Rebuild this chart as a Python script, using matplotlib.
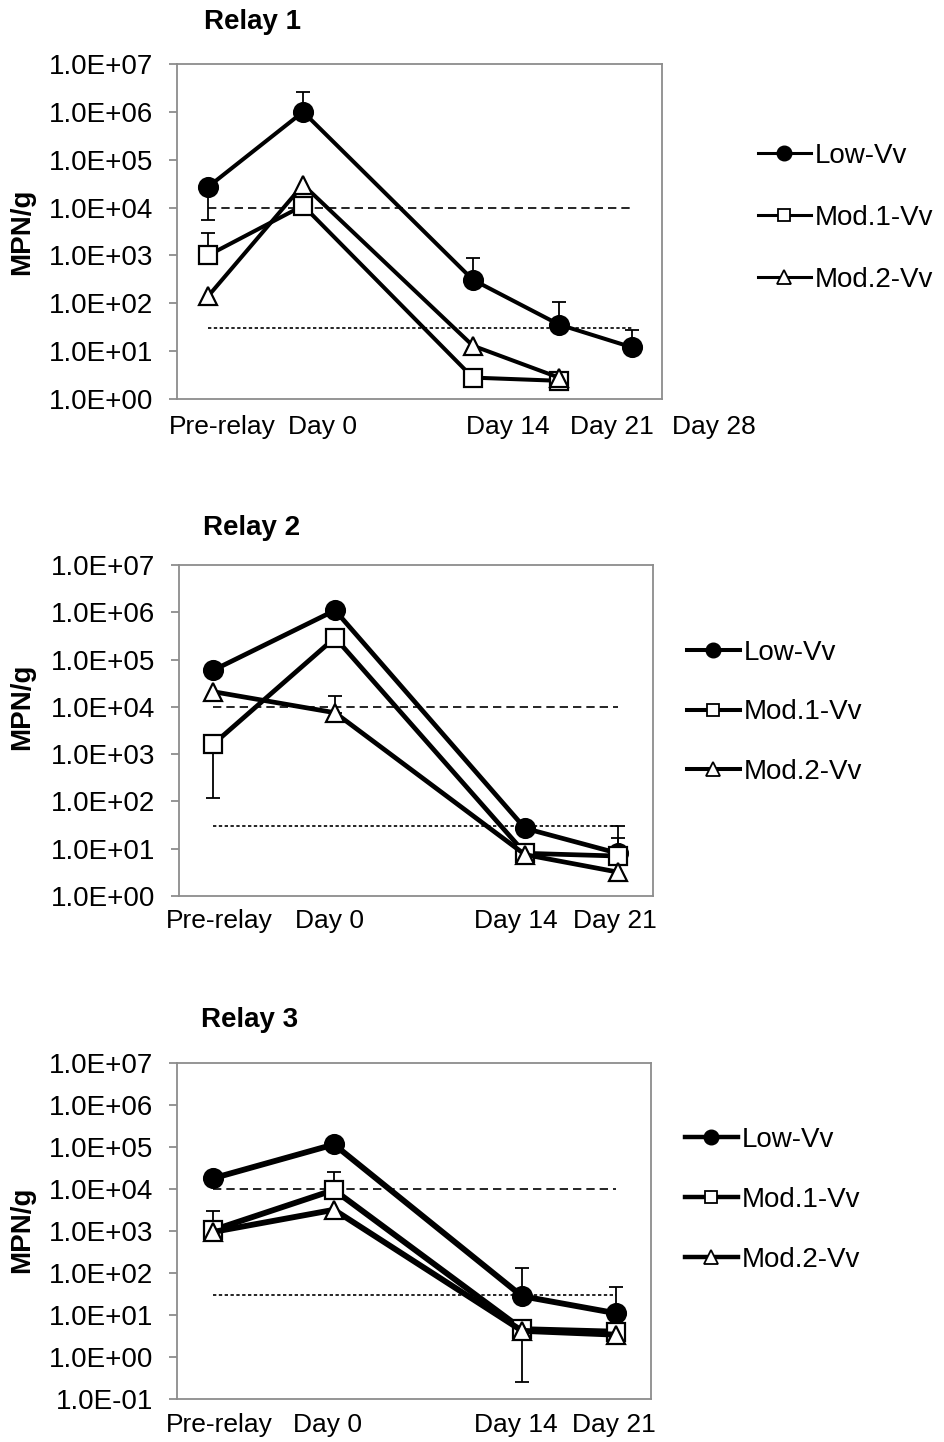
import numpy as np
import matplotlib
matplotlib.use('Agg')
import matplotlib.pyplot as plt
from matplotlib.lines import Line2D
from matplotlib.ticker import FixedLocator, FuncFormatter, NullLocator

plt.rcParams['font.family'] = ['Liberation Sans', 'DejaVu Sans']

nan = np.nan
series_names = ['Low-Vv', 'Mod.1-Vv', 'Mod.2-Vv']
titles = ['Relay 1', 'Relay 2', 'Relay 3']
y_label = 'MPN/g'
ref_upper = 1.0e4      # dashed reference line
ref_lower = 30         # dotted reference line

# ---------------- Relay 1 ----------------
r1_labels = ['Pre-relay', 'Day 0', 'Day 14', 'Day 21', 'Day 28']
r1_low = [2.7e4, 1.0e6, 310, 36, 12]
r1_mod1 = [1.0e3, 1.1e4, 2.8, 2.4, nan]
r1_mod2 = [140, 3.0e4, 13, 2.8, nan]
r1_low_hi = [nan, 2.6e6, 880, 105, 28]
r1_low_lo = [5.5e3, nan, nan, nan, nan]
r1_mod1_hi = [3.0e3, nan, nan, nan, nan]
r1_mod1_lo = [nan, nan, nan, nan, nan]
r1_mod2_hi = [nan, nan, nan, nan, nan]
r1_mod2_lo = [nan, nan, nan, nan, nan]

# ---------------- Relay 2 ----------------
r2_labels = ['Pre-relay', 'Day 0', 'Day 14', 'Day 21']
r2_low = [5.9e4, 1.1e6, 27, 8]
r2_mod1 = [1.6e3, 2.9e5, 8, 7]
r2_mod2 = [2.1e4, 7.5e3, 7.5, 3.2]
r2_low_hi = [nan, nan, nan, 17]
r2_low_lo = [nan, nan, nan, nan]
r2_mod1_hi = [nan, nan, nan, 30]
r2_mod1_lo = [1.2e2, nan, nan, nan]
r2_mod2_hi = [nan, 1.7e4, nan, nan]
r2_mod2_lo = [nan, nan, nan, nan]

# ---------------- Relay 3 ----------------
r3_labels = ['Pre-relay', 'Day 0', 'Day 14', 'Day 21']
r3_low = [1.8e4, 1.15e5, 28, 11]
r3_mod1 = [1.05e3, 9.5e3, 4.6, 4.0]
r3_mod2 = [950, 3.2e3, 4.2, 3.4]
r3_low_hi = [nan, nan, 130, 47]
r3_low_lo = [nan, nan, nan, nan]
r3_mod1_hi = [3.0e3, 2.5e4, nan, nan]
r3_mod1_lo = [nan, nan, nan, nan]
r3_mod2_hi = [nan, nan, nan, nan]
r3_mod2_lo = [nan, nan, 0.26, nan]

# ---------------- layout (pixels) ----------------
W, H = 944, 1442
fig = plt.figure(figsize=(W / 100, H / 100), dpi=100)


def px_rect(l, t, r, b):
    return [l / W, 1 - b / H, (r - l) / W, (b - t) / H]


panels = [
    dict(rect=(177, 64, 662, 399), xpos=[-7.84, 0, 14.0, 21.1, 27.13], xlim=(-10.4, 29.6),
         ylim=(1, 1e7), label_x=[-6.68, 1.57, 16.9, 25.5, 33.9], lw=2.9, leg_lw=2.2,
         labels=r1_labels, data=[r1_low, r1_mod1, r1_mod2],
         hi=[r1_low_hi, r1_mod1_hi, r1_mod2_hi], lo=[r1_low_lo, r1_mod1_lo, r1_mod2_lo],
         title_xy=(252, 22), ylab_y=232, leg_xy=(758, 143), leg_sp=1.3, xlab_off=-20),
    dict(rect=(179, 565, 653, 896), xpos=[-9.0, 0, 14.0, 20.85], xlim=(-11.5, 23.43),
         ylim=(1, 1e7), label_x=[-8.55, -0.44, 13.3, 20.6], lw=3.4, leg_lw=2.9,
         labels=r2_labels, data=[r2_low, r2_mod1, r2_mod2],
         hi=[r2_low_hi, r2_mod1_hi, r2_mod2_hi], lo=[r2_low_lo, r2_mod1_lo, r2_mod2_lo],
         title_xy=(252, 528), ylab_y=707, leg_xy=(687, 640), leg_sp=1.2, xlab_off=-18),
    dict(rect=(177, 1063, 651, 1399), xpos=[-9.0, 0, 14.0, 21.0], xlim=(-11.69, 23.6),
         ylim=(0.1, 1e7), label_x=[-8.56, -0.45, 13.5, 20.85], lw=4.2, leg_lw=3.2,
         labels=r3_labels, data=[r3_low, r3_mod1, r3_mod2],
         hi=[r3_low_hi, r3_mod1_hi, r3_mod2_hi], lo=[r3_low_lo, r3_mod1_lo, r3_mod2_lo],
         title_xy=(250, 1020), ylab_y=1230, leg_xy=(685, 1127), leg_sp=1.22, xlab_off=-19),
]

styles = [
    dict(marker='o', mfc='black', mec='black', ms=14, mew=1.2),
    dict(marker='s', mfc='white', mec='black', ms=13, mew=1.6),
    dict(marker='^', mfc='white', mec='black', ms=13, mew=1.6),
]
leg_styles = [
    dict(marker='o', mfc='black', mec='black', ms=10.5, mew=1.0),
    dict(marker='s', mfc='white', mec='black', ms=9, mew=1.3),
    dict(marker='^', mfc='white', mec='black', ms=9.5, mew=1.3),
]

spine_col = '#8c8c8c'


def fmt(v, pos):
    e = int(round(np.log10(v)))
    return f"1.0E{e:+03d}"


for P, title in zip(panels, titles):
    ax = fig.add_axes(px_rect(*P['rect']))
    ax.set_yscale('log')
    ax.set_xlim(*P['xlim'])
    ax.set_ylim(*P['ylim'])
    lo_e, hi_e = int(np.log10(P['ylim'][0])), int(np.log10(P['ylim'][1]))
    ax.yaxis.set_major_locator(FixedLocator([10.0 ** e for e in range(lo_e, hi_e + 1)]))
    ax.yaxis.set_major_formatter(FuncFormatter(fmt))
    ax.yaxis.set_minor_locator(NullLocator())
    ax.set_xticks([])
    for s in ax.spines.values():
        s.set_color(spine_col)
        s.set_linewidth(1.3)
    ax.tick_params(axis='y', which='major', direction='out', length=6, width=1.3,
                   color=spine_col, pad=11, labelsize=20, labelcolor='black')

    xpos = np.array(P['xpos'])
    # reference lines
    ax.plot([xpos[0], xpos[-1]], [ref_upper, ref_upper], color='black', lw=1.2,
            linestyle=(0, (5, 3)), zorder=1)
    ax.plot([xpos[0], xpos[-1]], [ref_lower, ref_lower], color='black', lw=1.2,
            linestyle=(0, (2, 1.5)), zorder=1)

    for vals, his, los, st in zip(P['data'], P['hi'], P['lo'], styles):
        v = np.array(vals, dtype=float)
        hi = np.array(his, dtype=float)
        lo = np.array(los, dtype=float)
        up = np.where(np.isnan(hi), 0, hi - v)
        dn = np.where(np.isnan(lo), 0, v - lo)
        m = ~np.isnan(hi) | ~np.isnan(lo)
        if m.any():
            ax.errorbar(xpos[m], v[m], yerr=[dn[m], up[m]], fmt='none', ecolor='black',
                        elinewidth=1.3, capsize=5, capthick=1.3, zorder=2)
        ok = ~np.isnan(v)
        ax.plot(xpos[ok], v[ok], color='black', lw=P['lw'], zorder=3,
                solid_capstyle='butt', **st)

    # category labels
    for lx, lab in zip(P['label_x'], P['labels']):
        ax.annotate(lab, xy=(lx, 0), xycoords=('data', 'axes fraction'),
                    xytext=(0, P['xlab_off']), textcoords='offset points',
                    ha='center', va='center', fontsize=19, annotation_clip=False)

    handles = [Line2D([], [], color='black', lw=P['leg_lw'], **ls) for ls in leg_styles]
    ax.legend(handles, series_names, loc='upper left',
              bbox_to_anchor=(P['leg_xy'][0] / W, 1 - P['leg_xy'][1] / H),
              bbox_transform=fig.transFigure, frameon=False, fontsize=20,
              handlelength=1.9, handletextpad=0.15, labelspacing=P['leg_sp'],
              borderpad=0, borderaxespad=0)

    fig.text(P['title_xy'][0] / W, 1 - P['title_xy'][1] / H, title, ha='center',
             va='center', fontsize=20, fontweight='bold')
    fig.text(22 / W, 1 - P['ylab_y'] / H, y_label, rotation=90, ha='center',
             va='center', fontsize=20, fontweight='bold')

fig.savefig('out.png', dpi=100, facecolor='white')
